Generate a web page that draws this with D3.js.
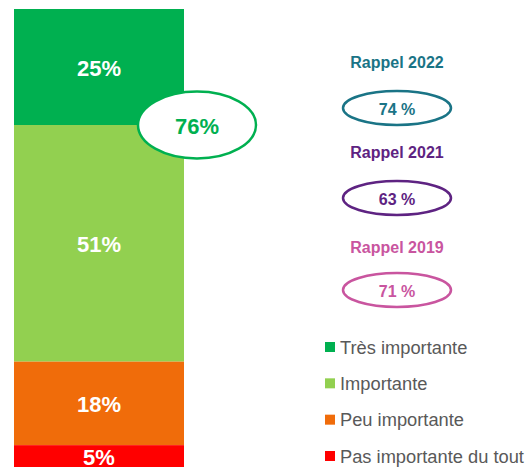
<!DOCTYPE html>
<html><head><meta charset="utf-8">
<script src="https://cdn.jsdelivr.net/npm/d3@7"></script>
<style>html,body{margin:0;padding:0;background:#fff;overflow:hidden}svg{display:block}</style>
</head><body>
<svg id="c" width="531" height="467"></svg>
<script>
const categories = ["Très importante", "Importante", "Peu importante", "Pas importante du tout"];
const values = [25, 51, 18, 5];
const colors = ["#00b050", "#92d050", "#f06c0a", "#ff0000"];
const totalLabel = "76%";
const rappelYears = ["Rappel 2022", "Rappel 2021", "Rappel 2019"];
const rappelValues = ["74 %", "63 %", "71 %"];
const rappelColors = ["#1a7486", "#5e2382", "#c9559f"];

const svg = d3.select("#c");
const font = "'Liberation Sans', Arial, sans-serif";

const y = d3.scaleLinear().domain([0, 100]).range([9, 473]);
const x = d3.scaleBand().domain(["bar"]).range([14, 184]).padding(0);

let cum = 0;
const segs = values.map((v, i) => { const s = {v, i, y0: cum, y1: cum + v}; cum += v; return s; });

svg.selectAll("rect.seg").data(segs).enter().append("rect")
  .attr("x", x("bar")).attr("width", x.bandwidth())
  .attr("y", d => y(d.y0)).attr("height", d => y(d.y1) - y(d.y0))
  .attr("fill", d => colors[d.i]);

svg.selectAll("text.seg").data(segs).enter().append("text")
  .attr("x", x("bar") + x.bandwidth() / 2)
  .attr("y", d => (y(d.y0) + y(d.y1)) / 2 + 1)
  .attr("text-anchor", "middle").attr("dominant-baseline", "central")
  .attr("font-family", font).attr("font-weight", "bold").attr("font-size", 22)
  .attr("fill", "#fff").text(d => d.v + "%");

// total ellipse at boundary
const ey = y(values[0]);
svg.append("ellipse").attr("cx", 197).attr("cy", ey).attr("rx", 59).attr("ry", 33.5)
  .attr("fill", "#fff").attr("stroke", colors[0]).attr("stroke-width", 2.5);
svg.append("text").attr("x", 197).attr("y", ey + 1).attr("text-anchor", "middle")
  .attr("dominant-baseline", "central").attr("font-family", font).attr("font-weight", "bold")
  .attr("font-size", 22).attr("fill", colors[0]).text(totalLabel);

// rappels
const rx = 397;
const rowY = d3.scaleLinear().domain([0, 1]).range([62, 152]);
rappelYears.forEach((yr, i) => {
  const ty = i === 2 ? 247 : rowY(i);
  const cy = ty + (i === 2 ? 43 : 46);
  svg.append("text").attr("x", rx).attr("y", ty).attr("text-anchor", "middle")
    .attr("dominant-baseline", "central").attr("font-family", font).attr("font-weight", "bold")
    .attr("font-size", 16).attr("fill", rappelColors[i]).text(yr);
  svg.append("ellipse").attr("cx", rx).attr("cy", cy).attr("rx", 54).attr("ry", 17)
    .attr("fill", "#fff").attr("stroke", rappelColors[i]).attr("stroke-width", 2.5);
  svg.append("text").attr("x", rx).attr("y", cy + 1).attr("text-anchor", "middle")
    .attr("dominant-baseline", "central").attr("font-family", font).attr("font-weight", "bold")
    .attr("font-size", 16).attr("fill", rappelColors[i]).text(rappelValues[i]);
});

// legend
const ly = d3.scaleLinear().domain([0, 3]).range([347, 456]);
const lg = svg.selectAll("g.leg").data(categories).enter().append("g")
  .attr("transform", (d, i) => `translate(325,${ly(i)})`);
lg.append("rect").attr("x", 0).attr("y", -5).attr("width", 10).attr("height", 10)
  .attr("fill", (d, i) => colors[i]);
lg.append("text").attr("x", 15).attr("y", 0).attr("dominant-baseline", "central")
  .attr("font-family", font).attr("font-size", 18.3).attr("fill", "#595959").text(d => d);
</script>
</body></html>
